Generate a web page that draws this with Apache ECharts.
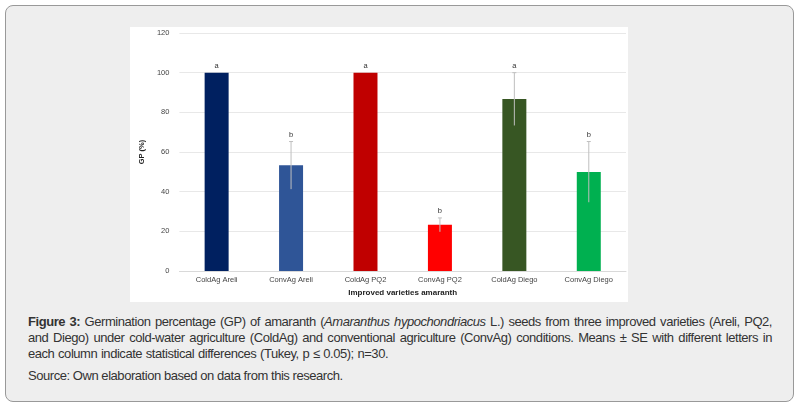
<!DOCTYPE html>
<html>
<head>
<meta charset="utf-8">
<script src="https://cdn.jsdelivr.net/npm/echarts@6/dist/echarts.min.js"></script>
<style>
body { margin:0; background:#fff; font-family: "Liberation Sans", Arial, sans-serif; }
#frame { position:absolute; left:5px; top:5px; width:787px; height:395px; background:#eeeeee; border:1px solid #999; border-radius:8px; }
#chart { position:absolute; left:130px; top:27px; width:498px; height:275px; background:#fff; }
#caption { position:absolute; left:28px; top:314px; width:744px; line-height:16px; color:#333; text-align:justify; font-size:13px; letter-spacing:-0.45px; word-spacing:0.5px; }
#source { position:absolute; left:28px; top:368px; font-size:13px; letter-spacing:-0.45px; color:#333; }
</style>
</head>
<body>
<div id="frame"></div>
<div id="chart"></div>
<div id="caption"><b>Figure 3:</b> Germination percentage (GP) of amaranth (<i>Amaranthus hypochondriacus</i> L.) seeds from three improved varieties (Areli, PQ2, and Diego) under cold-water agriculture (ColdAg) and conventional agriculture (ConvAg) conditions. Means ± SE with different letters in each column indicate statistical differences (Tukey, p ≤ 0.05); n=30.</div>
<div id="source">Source: Own elaboration based on data from this research.</div>
<script>
var categories = ['ColdAg Areli', 'ConvAg Areli', 'ColdAg PQ2', 'ConvAg PQ2', 'ColdAg Diego', 'ConvAg Diego'];
var values = [100, 53.3, 100, 23.3, 86.7, 50];
var errors = [0, 12, 0, 3.5, 13.3, 15.3];
var letters = ['a', 'b', 'a', 'b', 'a', 'b'];
var colors = ['#002060', '#2F5597', '#C00000', '#FF0000', '#375623', '#00B050'];

var chart = echarts.init(document.getElementById('chart'));

var barData = [];
var errData = [];
for (var i = 0; i < values.length; i++) {
    barData.push({ value: values[i], itemStyle: { color: colors[i] } });
    errData.push([i, values[i] - errors[i], values[i] + errors[i], letters[i]]);
}

var option = {
    animation: false,
    grid: { left: 29, right: 2, top: 6, bottom: 30 },
    xAxis: {
        type: 'category',
        data: categories,
        name: 'Improved varieties amaranth',
        nameLocation: 'middle',
        nameGap: 15,
        nameTextStyle: { fontWeight: 'bold', fontSize: 8, color: '#222' },
        axisLine: { lineStyle: { color: '#d9d9d9' } },
        axisTick: { show: false },
        axisLabel: { fontSize: 7.5, color: '#444', margin: 5 }
    },
    yAxis: {
        type: 'value',
        min: 0, max: 120, interval: 20,
        name: 'GP (%)',
        nameLocation: 'middle',
        nameGap: 20,
        nameTextStyle: { fontWeight: 'bold', fontSize: 7.5, color: '#222' },
        axisLabel: { fontSize: 7.5, color: '#444', margin: 10 },
        splitLine: { lineStyle: { color: '#e8e8e8' } }
    },
    series: [
        {
            type: 'bar',
            data: barData,
            barWidth: 24
        },
        {
            type: 'custom',
            data: errData,
            z: 10,
            renderItem: function (params, api) {
                var x = api.value(0);
                var lo = api.coord([x, api.value(1)]);
                var hi = api.coord([x, api.value(2)]);
                var children = [];
                if (hi[1] !== lo[1]) {
                    children.push({ type: 'line', shape: { x1: lo[0], y1: lo[1], x2: hi[0], y2: hi[1] }, style: { stroke: '#bfbfbf', lineWidth: 1 } });
                    children.push({ type: 'line', shape: { x1: hi[0] - 2, y1: hi[1], x2: hi[0] + 2, y2: hi[1] }, style: { stroke: '#bfbfbf', lineWidth: 1 } });
                }
                children.push({ type: 'text', x: hi[0], y: hi[1] - 3, style: { text: api.value(3), fontSize: 7.5, fill: '#333', align: 'center', verticalAlign: 'bottom' } });
                return { type: 'group', children: children };
            }
        }
    ]
};
chart.setOption(option);
</script>
</body>
</html>
